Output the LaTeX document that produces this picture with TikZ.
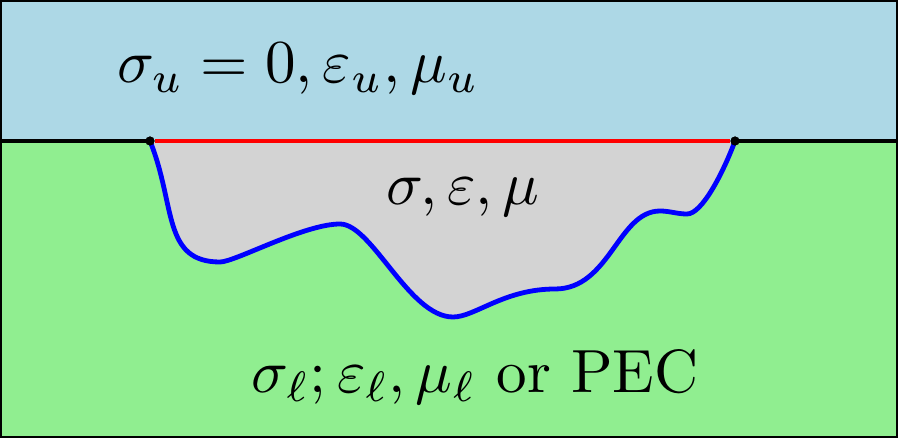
\documentclass[tikz,border=0pt]{standalone}
\usepackage{amsmath}
\definecolor{upper}{RGB}{173,216,230}
\definecolor{lower}{RGB}{144,238,144}
\definecolor{inner}{RGB}{211,211,211}
\tikzset{
  lbl/.style={scale=3.05, inner sep=0pt, anchor=base},
  dotnode/.style={circle, fill=black, inner sep=0pt, minimum size=4.5pt},
  surf/.style={blue, line width=2.4pt},
  iface/.style={line width=2pt},
}
\begin{document}
\begin{tikzpicture}[x=0.5pt, y=-0.5pt]
\useasboundingbox (0,0) rectangle (898,438);
% regions
\fill[upper] (0,0) rectangle (898,141);
\fill[lower] (0,141) rectangle (898,438);
\def\curve{(150,141) .. controls (176,205) and (162,262) .. (220,262)
  .. controls (235,262) and (304,224) .. (340,224)
  .. controls (372,224) and (409,317) .. (453,317)
  .. controls (475,317) and (504,289) .. (555,289)
  .. controls (610,289) and (618,211) .. (660,211)
  .. controls (670,211) and (677,214) .. (687,214)
  .. controls (702,214) and (723,173) .. (735,141)}
\fill[inner] \curve -- cycle;
\draw[surf] \curve;
% interface
\coordinate (L) at (0,141);
\coordinate (R) at (898,141);
\node[dotnode] (dl) at (150,141) {};
\node[dotnode] (dr) at (735,141) {};
\draw[black, iface] (L) -- (dl.center);
\draw[black, iface] (dr.center) -- (R);
\draw[red, iface] (dl) -- (dr);
\node[dotnode] at (dl) {};
\node[dotnode] at (dr) {};
% frame
\draw[black, line width=1.6pt] (0.8,0.8) rectangle (897.2,437.2);
% labels
\node[lbl] (tu) at (298,83) {$\sigma_u = 0, \varepsilon_u, \mu_u$};
\node[lbl] (tm) at (463,205) {$\sigma, \varepsilon, \mu$};
\node[lbl] (tl) at (475,392) {$\sigma_\ell; \varepsilon_\ell, \mu_\ell$ or PEC};
\end{tikzpicture}
\end{document}
